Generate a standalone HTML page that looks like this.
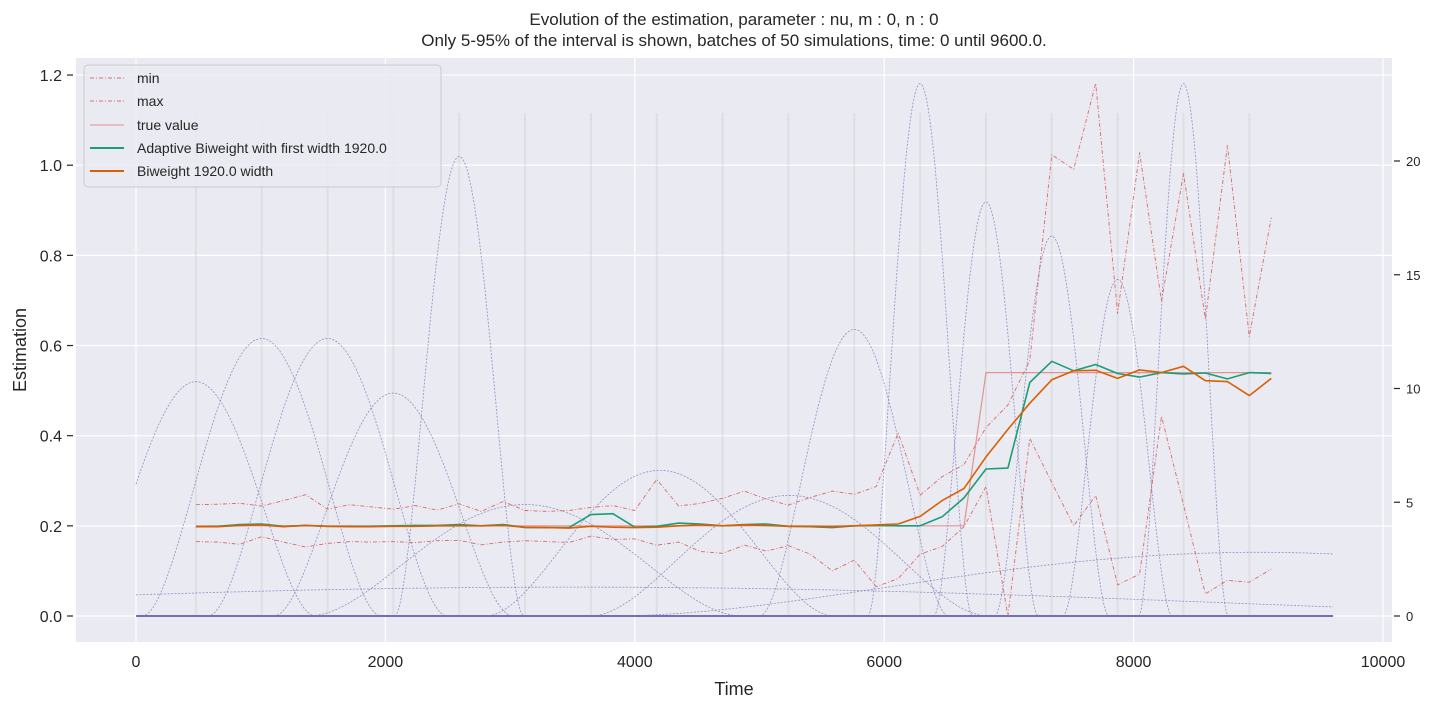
<!DOCTYPE html>
<html><head><meta charset="utf-8">
<style>
html,body{margin:0;padding:0;background:#fff;}
svg text{font-family:"Liberation Sans",sans-serif;fill:#262626;}
</style></head>
<body>
<svg id="chart" width="1448" height="708" xmlns="http://www.w3.org/2000/svg">
<text x="734" y="25" font-size="17" text-anchor="middle">Evolution of the estimation, parameter : nu, m : 0, n : 0</text>
<text x="734" y="46" font-size="17" text-anchor="middle">Only 5-95% of the interval is shown, batches of 50 simulations, time: 0 until 9600.0.</text>
<rect x="76" y="58" width="1316" height="584" fill="#eaeaf2"/>
<g id="grid"></g>
<g id="kernels"></g>
<g id="series"></g>
<g id="axes"></g>
<text x="734" y="695" font-size="18" text-anchor="middle">Time</text>
<text x="26" y="350" font-size="18" text-anchor="middle" transform="rotate(-90 26 350)">Estimation</text>
<g>
<rect x="84" y="65" width="357" height="122" rx="4" fill="#eaeaf2" fill-opacity="0.85" stroke="#ccc"/>
<g><line x1="90" y1="78" x2="124" y2="78" stroke="#e07070" stroke-width="1" stroke-dasharray="4,2,1,2"/><text x="137" y="83" font-size="14">min</text></g>
<g><line x1="90" y1="101" x2="124" y2="101" stroke="#e07070" stroke-width="1" stroke-dasharray="4,2,1,2"/><text x="137" y="106" font-size="14">max</text></g>
<g><line x1="90" y1="125" x2="124" y2="125" stroke="#e59090" stroke-width="1"/><text x="137" y="130" font-size="14">true value</text></g>
<g><line x1="90" y1="148" x2="124" y2="148" stroke="#1b9e77" stroke-width="2"/><text x="137" y="153" font-size="14">Adaptive Biweight with first width 1920.0</text></g>
<g><line x1="90" y1="171" x2="124" y2="171" stroke="#d95f02" stroke-width="2"/><text x="137" y="176" font-size="14">Biweight 1920.0 width</text></g>
</g>
</svg>
<script>
const times = [480,656,832,1008,1184,1360,1536,1712,1888,2064,2240,2416,2592,2768,2944,3120,3296,3472,3648,3824,4000,4176,4352,4528,4704,4880,5056,5232,5408,5584,5760,5936,6112,6288,6464,6640,6816,6992,7168,7344,7520,7696,7872,8048,8224,8400,8576,8752,8928,9104];
const adaptiveVals = [.198,.199,.203,.204,.199,.201,.199,.199,.199,.200,.201,.201,.203,.200,.203,.196,.196,.196,.225,.227,.197,.199,.206,.204,.200,.203,.204,.199,.198,.196,.200,.201,.200,.200,.220,.262,.326,.328,.518,.565,.544,.558,.538,.530,.540,.537,.539,.526,.540,.538];
const biweightVals = [.198,.198,.201,.202,.198,.201,.199,.198,.198,.199,.199,.2,.2,.2,.201,.197,.196,.195,.199,.197,.196,.197,.2,.202,.2,.202,.201,.199,.199,.198,.2,.202,.204,.221,.256,.283,.353,.414,.472,.524,.544,.545,.527,.546,.54,.554,.522,.52,.489,.527];
const maxVals = [.247,.248,.25,.244,.256,.269,.237,.247,.242,.237,.245,.235,.249,.232,.254,.234,.232,.234,.241,.245,.234,.303,.244,.25,.261,.277,.259,.246,.263,.277,.27,.287,.406,.268,.309,.336,.418,.468,.567,1.023,.991,1.182,.671,1.028,.698,.982,.658,1.044,.62,.884];
const minVals = [.165,.164,.159,.176,.164,.153,.161,.165,.164,.165,.163,.167,.168,.158,.164,.167,.165,.163,.177,.17,.171,.157,.164,.143,.139,.157,.144,.156,.137,.1,.124,.065,.083,.137,.154,.198,.287,0,.394,.296,.2,.267,.069,.093,.443,.247,.049,.079,.075,.104];
const trueVals = [.2,.2,.2,.2,.2,.2,.2,.2,.2,.2,.2,.2,.2,.2,.2,.2,.2,.2,.2,.2,.2,.2,.2,.2,.2,.2,.2,.2,.2,.2,.2,.2,.2,.2,.2,.2,.54,.54,.54,.54,.54,.54,.54,.54,.54,.54,.54,.54,.54,.54];
const batchTimes = [480,1008,1536,2064,2592,3120,3648,4176,4704,5232,5760,6288,6816,7344,7872,8400,8928];
const kernelCenters = [480,1008,1536,2064,2592,3120,4200,5240,5760,6288,6816,7344,7872,8400,3500,9000];
const kernelHeights = [10.3,12.2,12.2,9.8,20.2,4.9,6.4,5.3,12.6,23.4,18.2,16.7,14.8,23.4,1.27,2.8];
const kernelWidths = [960,960,960,960,520,1740,1400,1600,760,420,420,460,440,360,9200,5200];
const xTicks = [0,2000,4000,6000,8000,10000];
const yTicks = [0,0.2,0.4,0.6,0.8,1.0,1.2];
const yRightTicks = [0,5,10,15,20];

const NS='http://www.w3.org/2000/svg';
const X = t => 136 + t*0.12470;
const Y = v => 616 - v*450.8;
const YR = v => 616 - v*22.75;
function mk(parent, tag, attrs){const e=document.createElementNS(NS,tag);for(const k in attrs)e.setAttribute(k,attrs[k]);document.getElementById(parent).appendChild(e);return e;}

xTicks.forEach(t=>{
  const l=mk('grid','line',{x1:X(t),x2:X(t),y1:58,y2:642,stroke:'#fff','stroke-width':1.2});
  
  
  const tx=mk('axes','text',{x:X(t),y:667,'font-size':16,'text-anchor':'middle'});
  tx.textContent=t;
  
  
});
yTicks.forEach(v=>{
  const l=mk('grid','line',{x1:76,x2:1392,y1:Y(v),y2:Y(v),stroke:'#fff','stroke-width':1.2});
  
  
  const tk=mk('axes','line',{x1:67,x2:73,y1:Y(v),y2:Y(v),stroke:'#262626','stroke-width':1.2});
  
  
  const tx=mk('axes','text',{x:62,y:Y(v)+6,'font-size':16,'text-anchor':'end'});
  tx.textContent=v.toFixed(1);
  
  
});
yRightTicks.forEach(v=>{
  const tk=mk('axes','line',{x1:1394,x2:1400,y1:YR(v),y2:YR(v),stroke:'#262626','stroke-width':1.2});
  
  
  const tx=mk('axes','text',{x:1406,y:YR(v)+5,'font-size':13});
  tx.textContent=v;
  
  
});
batchTimes.forEach(t=>{
  const l=mk('grid','line',{x1:X(t),x2:X(t),y1:Y(1.115),y2:Y(0),stroke:'#bbb','stroke-width':2,'stroke-opacity':0.5,'stroke-dasharray':'1,1'});
  
  
});
kernelCenters.forEach((c,k)=>{
  const h=kernelHeights[k], w=kernelWidths[k];
  const a=Math.max(0,c-w), b=Math.min(9600,c+w);
  let pts=[];
  for(let s=0;s<=120;s++){const t=a+(b-a)*s/120;const u=(t-c)/w;const v=h*Math.pow(Math.max(0,1-u*u),2);pts.push(X(t).toFixed(1)+','+YR(v).toFixed(1));}
  const p=mk('kernels','polyline',{points:pts.join(' '),fill:'none',stroke:'#7570b3','stroke-width':0.8,'stroke-opacity':0.75,'stroke-dasharray':'2,1.5'});
  
  
});
const base=mk('kernels','line',{x1:X(0),x2:X(9600),y1:YR(0),y2:YR(0),stroke:'#7570b3','stroke-width':2});



function series(vals,color,width,dash,name,op){
  const pts=times.map((t,i)=>X(t).toFixed(1)+','+Y(vals[i]).toFixed(1)).join(' ');
  const attrs={points:pts,fill:'none',stroke:color,'stroke-width':width,'stroke-opacity':op,'stroke-linejoin':'round'};
  if(dash)attrs['stroke-dasharray']=dash;
  const p=mk('series','polyline',attrs);
  
  
}
series(maxVals,'#d9534f',0.9,'4,2,1,2','max-line',0.85);
series(minVals,'#d9534f',0.9,'4,2,1,2','min-line',0.85);
series(trueVals,'#e08a8a',1.2,null,'true-value-line',0.9);
series(adaptiveVals,'#1b9e77',1.6,null,'adaptive-biweight-line',1);
series(biweightVals,'#d95f02',1.6,null,'biweight-line',1);
</script>
</body></html>
